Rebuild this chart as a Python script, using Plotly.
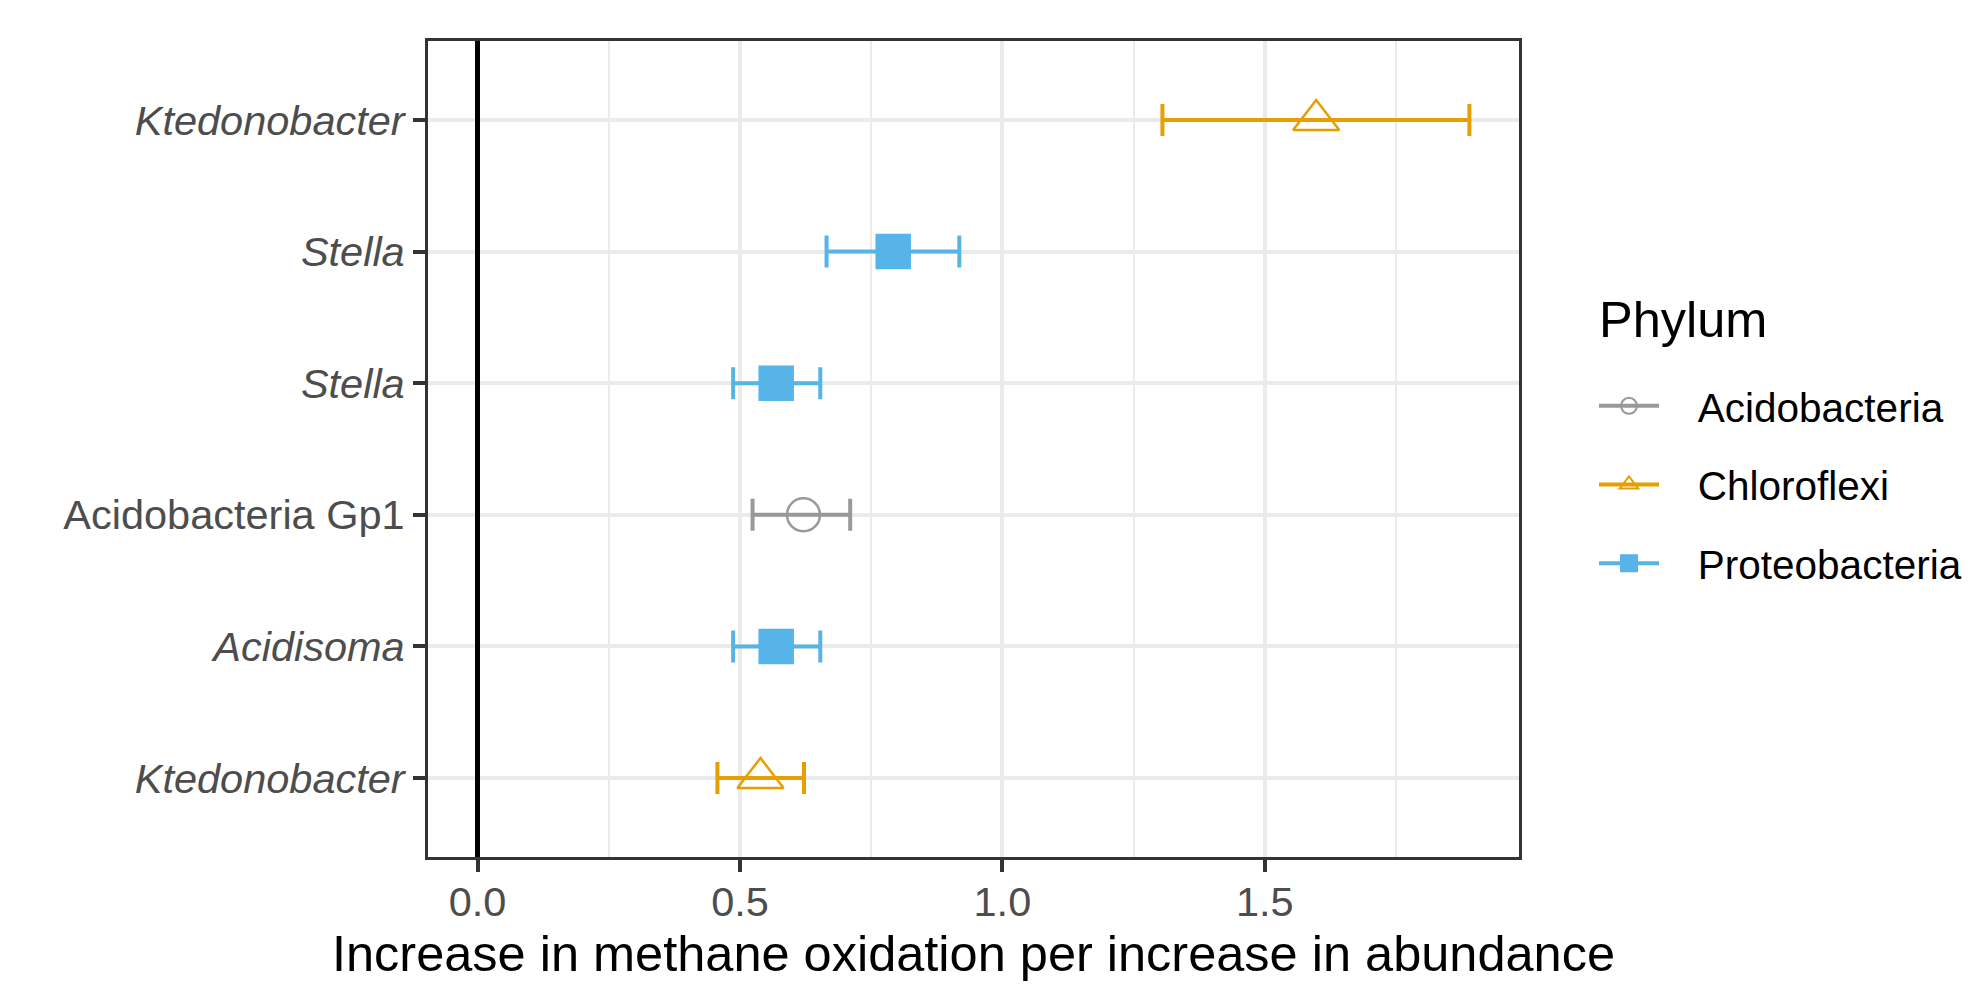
import plotly.graph_objects as go

# ---- data (rows bottom -> top) ----
genus = ["Ktedonobacter", "Acidisoma", "Acidobacteria Gp1", "Stella", "Stella", "Ktedonobacter"]
italic = [True, True, False, True, True, True]
phylum = ["Chloroflexi", "Proteobacteria", "Acidobacteria", "Proteobacteria", "Proteobacteria", "Chloroflexi"]
estimate = [0.539, 0.569, 0.621, 0.569, 0.792, 1.598]
lower = [0.457, 0.487, 0.524, 0.487, 0.665, 1.305]
upper = [0.622, 0.653, 0.710, 0.653, 0.918, 1.890]
row_pos = [1, 2, 3, 4, 5, 6]

x_tick_vals = [0, 0.5, 1.0, 1.5]
x_tick_text = ["0.0", "0.5", "1.0", "1.5"]
x_minor_vals = [0.25, 0.75, 1.25, 1.75]

phyla = ["Acidobacteria", "Chloroflexi", "Proteobacteria"]
colors = {"Acidobacteria": "#999999", "Chloroflexi": "#E69F00", "Proteobacteria": "#56B4E9"}
symbols = {"Acidobacteria": "circle-open", "Chloroflexi": "triangle-up-open", "Proteobacteria": "square"}
msize = {"Acidobacteria": 33, "Chloroflexi": 40, "Proteobacteria": 33}

FONT = "Liberation Sans, Arial, Helvetica, sans-serif"
TXT = 41.5
LEG = 40.5
TTL = 50.5

# figure geometry (page body has an 8px margin)
W, H = 1964, 977
L, T = 420, 33
PW, PH = 1091, 816

fig = go.Figure()

for p in phyla:
    idx = [i for i, ph in enumerate(phylum) if ph == p]
    xs = [estimate[i] for i in idx]
    ys = [row_pos[i] for i in idx]
    plus = [upper[i] - estimate[i] for i in idx]
    minus = [estimate[i] - lower[i] for i in idx]
    fig.add_trace(go.Scatter(
        x=xs, y=ys, mode="markers", showlegend=False,
        marker=dict(symbol=symbols[p], size=msize[p], color=colors[p],
                    line=dict(width=2.5, color=colors[p])),
        error_x=dict(type="data", symmetric=False, array=plus, arrayminus=minus,
                     color=colors[p], thickness=4, width=16),
    ))

# legend keys (line + marker, like ggplot keys)
NB = "\u00a0"
for p in phyla:
    fig.add_trace(go.Scatter(
        x=[None], y=[None], mode="lines+markers", name=NB * 3 + p, legendgroup=p,
        line=dict(color=colors[p], width=4),
        marker=dict(symbol=symbols[p], size=msize[p], color=colors[p],
                    line=dict(width=2, color=colors[p])),
    ))

ticktext = [f"<i>{g}</i>" if it else g for g, it in zip(genus, italic)]

fig.update_layout(
    width=W, height=H,
    margin=dict(l=L, r=W - L - PW, t=T, b=H - T - PH, autoexpand=False),
    paper_bgcolor="white", plot_bgcolor="white",
    font=dict(family=FONT, size=TXT, color="black"),
    legend=dict(
        font=dict(size=LEG, color="black"),
        xref="container", yref="container",
        x=1586 / W, xanchor="left", y=1 - 365 / H, yanchor="top",
        traceorder="grouped", tracegroupgap=23, itemwidth=60,
        bgcolor="rgba(0,0,0,0)",
    ),
    annotations=[dict(
        text="Phylum", xref="paper", yref="paper",
        x=(1589 - L) / PW, y=1 - (311 - T) / PH, xanchor="left", yanchor="middle",
        showarrow=False, font=dict(size=TTL, color="black"),
    )],
    xaxis=dict(
        range=[-0.0945, 1.9845], tickvals=x_tick_vals, ticktext=x_tick_text,
        showgrid=True, gridcolor="#EBEBEB", gridwidth=4,
        minor=dict(tickvals=x_minor_vals, showgrid=True,
                   gridcolor="#EBEBEB", gridwidth=2, ticks=""),
        zeroline=True, zerolinecolor="black", zerolinewidth=4.5,
        showline=True, mirror=True, linecolor="#333333", linewidth=3,
        ticks="outside", ticklen=12, tickwidth=4, tickcolor="#333333",
        tickfont=dict(size=TXT, color="#4D4D4D"), ticklabelstandoff=-6,
        title=dict(text="Increase in methane oxidation per increase in abundance",
                   font=dict(size=TTL, color="black"), standoff=11),
        automargin=False,
    ),
    yaxis=dict(
        range=[0.4, 6.6], tickvals=row_pos, ticktext=ticktext,
        showgrid=True, gridcolor="#EBEBEB", gridwidth=4, zeroline=False,
        showline=True, mirror=True, linecolor="#333333", linewidth=3,
        ticks="outside", ticklen=12, tickwidth=4, tickcolor="#333333",
        tickfont=dict(size=TXT, color="#4D4D4D"),
        automargin=False,
    ),
)

fig.write_html("out.html")
